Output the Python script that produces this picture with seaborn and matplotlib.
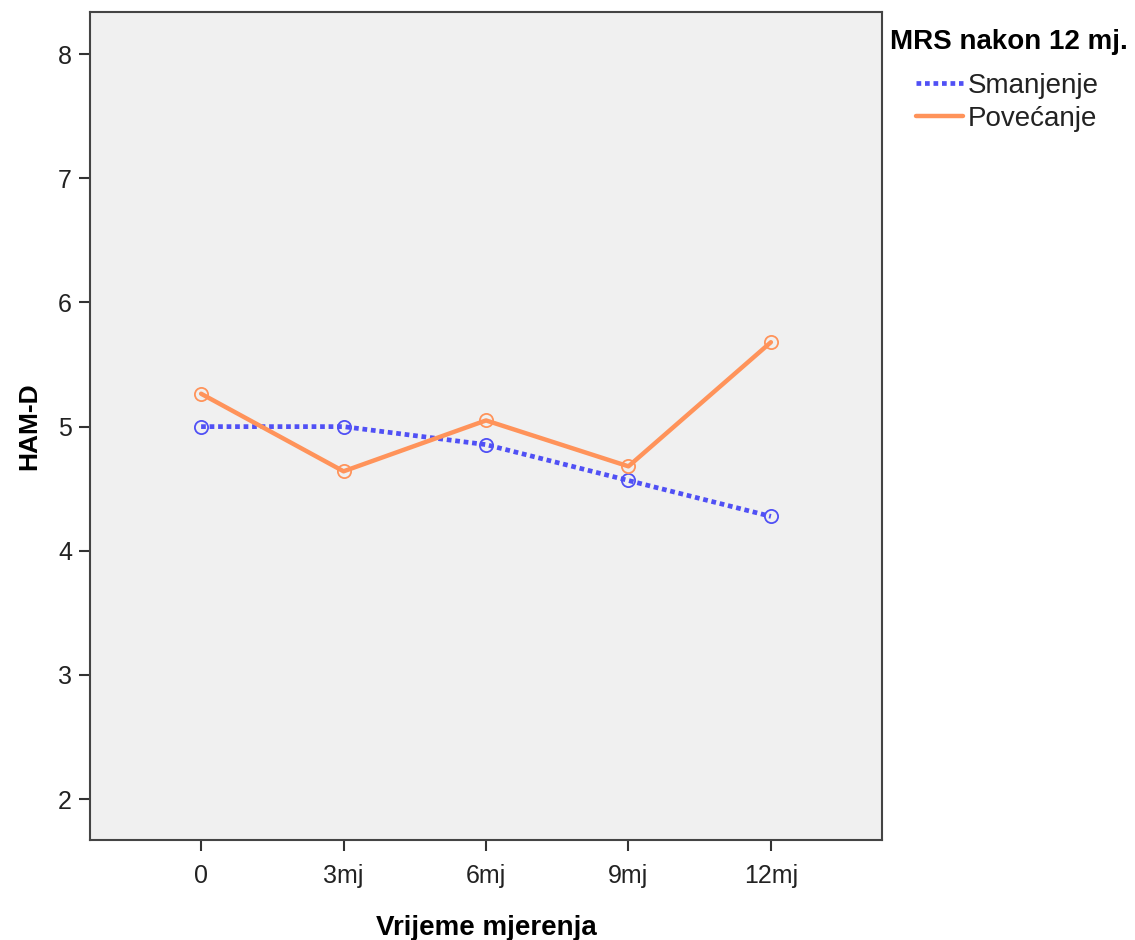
import matplotlib
matplotlib.use("Agg")
import matplotlib.pyplot as plt
import seaborn as sns
import pandas as pd
from matplotlib.lines import Line2D

categories = ["0", "3mj", "6mj", "9mj", "12mj"]
smanjenje = [5.00, 5.00, 4.855, 4.566, 4.277]
povecanje = [5.265, 4.64, 5.05, 4.68, 5.68]
groups = ["Smanjenje", "Povećanje"]
y_ticks = [2, 3, 4, 5, 6, 7, 8]

df = pd.DataFrame({
    "Vrijeme": list(range(len(categories))) * 2,
    "HAM-D": smanjenje + povecanje,
    "MRS": [groups[0]] * len(categories) + [groups[1]] * len(categories),
})

sns.set_theme(style="white")
plt.rcParams["font.family"] = ["Liberation Sans", "DejaVu Sans"]

colors = {"Smanjenje": "#5050F5", "Povećanje": "#FF935A"}
dotted = (0, (1, 0.8))

fig = plt.figure(figsize=(11.35, 9.4), dpi=100)
ax = fig.add_axes([90/1135, 1-840/940, (882-90)/1135, (840-12)/940])
ax.set_facecolor("#F0F0F0")

for g, ls, lw in [("Smanjenje", dotted, 3.4), ("Povećanje", "-", 3.2)]:
    sub = df[df["MRS"] == g]
    sns.lineplot(data=sub, x="Vrijeme", y="HAM-D", ax=ax, color=colors[g],
                 linestyle=ls, linewidth=lw, marker="o", markersize=9.5,
                 markerfacecolor="none", markeredgecolor=colors[g],
                 markeredgewidth=1.3, legend=False)

ax.set_xlim(-0.78, 4.78)
ax.set_ylim(1.67, 8.34)
ax.set_xticks(range(len(categories)))
ax.set_xticklabels(categories)
ax.set_yticks(y_ticks)
ax.set_yticklabels([str(t) for t in y_ticks])
ax.tick_params(axis="both", direction="out", length=8, width=1.5, color="#333333",
               labelsize=18, labelcolor="#222222", left=True, bottom=True, pad=5)
ax.tick_params(axis="x", pad=9)
for s in ax.spines.values():
    s.set_color("#444444")
    s.set_linewidth(1.5)

ax.set_xlabel("Vrijeme mjerenja", fontsize=20, fontweight="bold", labelpad=20, color="black")
ax.set_ylabel("HAM-D", fontsize=19, fontweight="bold", labelpad=12, color="black")

fig.text(890/1135, 1-42/940, "MRS nakon 12 mj.", fontsize=20, fontweight="bold",
         ha="left", va="center", color="black")
handles = [
    Line2D([0], [0], color=colors["Smanjenje"], linestyle=dotted, linewidth=3.4),
    Line2D([0], [0], color=colors["Povećanje"], linestyle="-", linewidth=3.2),
]
fig.legend(handles, groups, loc="upper left",
           bbox_to_anchor=(916/1135, 1-73/940), frameon=False, fontsize=20,
           handlelength=1.7, handletextpad=0.18, labelspacing=0.26,
           borderaxespad=0, borderpad=0, labelcolor="#222222")

fig.savefig("out.png", dpi=100)
